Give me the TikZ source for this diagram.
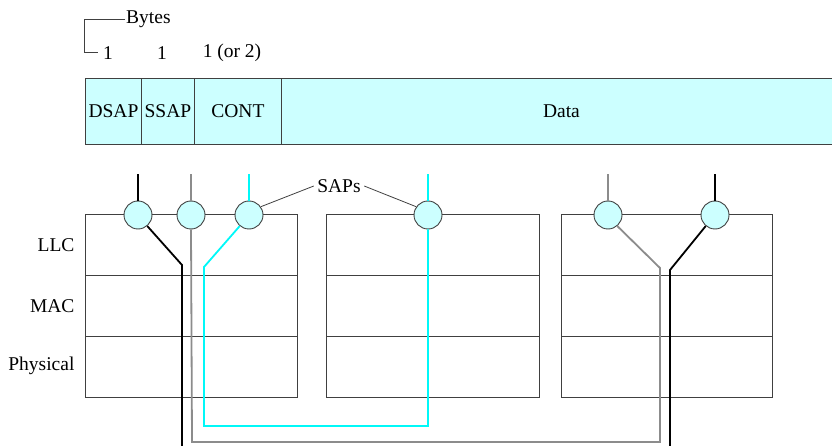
\documentclass[tikz,border=0pt]{standalone}
\usepackage{fontspec}
\setmainfont{Liberation Serif}
\definecolor{sapfill}{HTML}{CCFFFF}
\definecolor{edge}{HTML}{404040}
\definecolor{linkcyan}{HTML}{00F8F8}
\definecolor{linkgray}{HTML}{8C8C8C}
\tikzset{
  sap/.style={circle,draw=edge,fill=sapfill,minimum size=28pt,inner sep=0pt,line width=0.9pt},
  field/.style={draw=edge,fill=sapfill,minimum height=66pt,inner sep=0pt,anchor=north west,line width=0.9pt},
  blackpath/.style={black,line width=1.8pt},
  graypath/.style={linkgray,line width=1.8pt},
  cyanpath/.style={linkcyan,line width=1.8pt}
}
\begin{document}
\begin{tikzpicture}[x=1pt,y=-1pt,font=\fontsize{19.5}{22}\selectfont]
\useasboundingbox (0,0) rectangle (832,446);
% byte counts
\node[anchor=west,inner sep=1pt] (bytes) at (125,19) {Bytes};
\node (one1) at (108,53) {1};
\node (one2) at (162,53) {1};
\node (one3) at (232,53) {1 (or 2)};
\draw[edge,line width=0.9pt] (bytes.west) -- (84,19) -- (84,52) -- (98,52);
% header fields
\node[field,minimum width=56pt] (dsap) at (85,78) {DSAP};
\node[field,minimum width=53pt] (ssap) at (141,78) {SSAP};
\node[field,minimum width=87pt] (cont) at (194,78) {CONT};
\node[field,minimum width=560pt] (data) at (281,78) {Data};
% layer stacks
\foreach \xl/\xr in {85/297,326/539,561/772} {
  \draw[edge,line width=1pt] (\xl,215) rectangle (\xr,397);
  \draw[edge,line width=1pt] (\xl,275) -- (\xr,275);
  \draw[edge,line width=1pt] (\xl,336) -- (\xr,336);
}
\node[anchor=east] (llc) at (78,245) {LLC};
\node[anchor=east] (mac) at (78,306) {MAC};
\node[anchor=east] (phy) at (78,366) {Physical};
% service access points
\node[sap] (s1) at (138,215) {};
\node[sap] (s2) at (191,215) {};
\node[sap] (s3) at (249,215) {};
\node[sap] (s4) at (428,215) {};
\node[sap] (s5) at (608,215) {};
\node[sap] (s6) at (715,215) {};
\coordinate (top) at (0,174);
\node (saps) at (339,186) {SAPs};
\draw[edge,line width=0.8pt] (saps.west) -- (s3.35);
\draw[edge,line width=0.8pt] (saps.east) -- (s4.145);
% connections
\draw[blackpath] (s1.north) -- (s1 |- top);
\draw[blackpath] (s1.-50) -- (182,265) -- (182,446);
\draw[graypath] (s2.north) -- (s2 |- top);
\draw[graypath] (s2.south) -- (192,442) -- (660,442) -- (660,268) -- (s5.-50);
\draw[graypath] (s5.north) -- (s5 |- top);
\draw[cyanpath] (s3.north) -- (s3 |- top);
\draw[cyanpath] (s3.-130) -- (204,267) -- (204,426) -- (428,426) -- (s4.south);
\draw[cyanpath] (s4.north) -- (s4 |- top);
\draw[blackpath] (s6.north) -- (s6 |- top);
\draw[blackpath] (s6.-130) -- (670,270) -- (670,446);
\end{tikzpicture}
\end{document}
